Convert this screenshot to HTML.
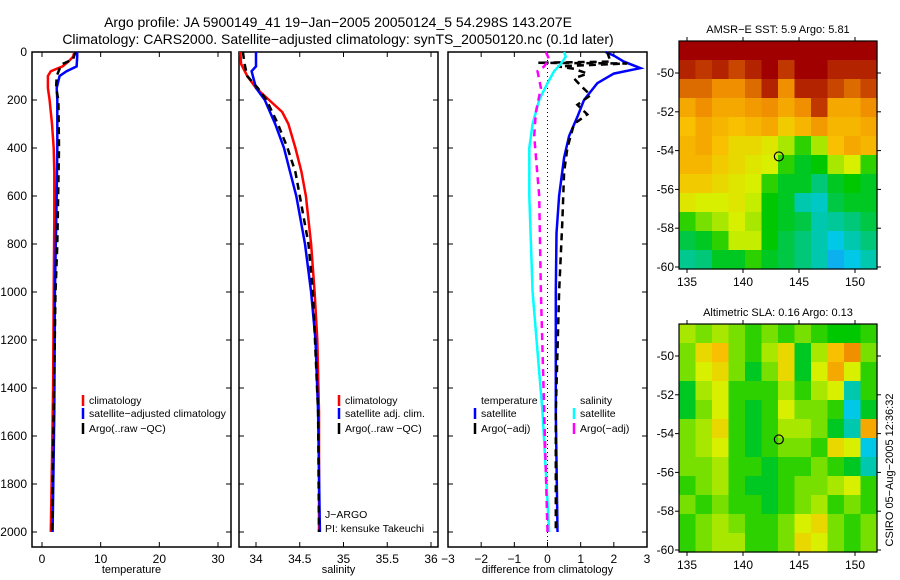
<!DOCTYPE html>
<html><head><meta charset="utf-8"><style>
body{margin:0;background:#fff;}
svg{display:block;font-family:"Liberation Sans",sans-serif;}
</style></head><body>
<svg id="fig" width="900" height="580" xmlns="http://www.w3.org/2000/svg">
<text x="338" y="27" font-size="14" text-anchor="middle">Argo profile: JA 5900149_41 19−Jan−2005 20050124_5 54.298S 143.207E</text>
<text x="338" y="44" font-size="14" text-anchor="middle">Climatology: CARS2000. Satellite−adjusted climatology: synTS_20050120.nc (0.1d later)</text>
<g id="g"></g>
</svg>
<script>
// ---------- data ----------
const depthTicks=[0,200,400,600,800,1000,1200,1400,1600,1800,2000];
const tempTicks=[0,10,20,30];
const salTicks=[34,34.5,35,35.5,36];
const salTickLabels=["34","34.5","35","35.5","36"];
const diffTicks=[-3,-2,-1,0,1,2,3];
const tClimD=[0,20,40,60,80,100,150,200,300,400,500,700,1000,1400,1700,2000];
const tClimV=[5.5,5.3,4.5,3.5,1.5,1.0,1.0,1.3,1.7,2.0,2.1,2.1,2.0,1.9,1.7,1.5];
const tSatD=[0,20,60,80,100,150,200,400,600,1000,1500,2000];
const tSatV=[6.0,6.0,5.9,4.2,3.0,2.5,2.6,2.6,2.5,2.2,2.1,1.8];
const tArgoD=[0,30,50,70,100,150,200,400,800,1000,1500,2000];
const tArgoV=[5.7,5.3,3.5,3.0,2.5,2.4,2.8,2.9,2.6,2.3,2.0,1.7];
const sClimD=[0,50,100,150,200,250,300,400,500,600,800,1000,1200,1500,2000];
const sClimV=[33.82,33.83,33.9,34.0,34.15,34.3,34.37,34.45,34.52,34.57,34.63,34.67,34.7,34.72,34.72];
const sSatD=[0,60,80,150,200,300,400,500,600,800,1000,1200,1500,2000];
const sSatV=[34.0,34.0,33.95,34.0,34.1,34.22,34.32,34.39,34.46,34.56,34.63,34.68,34.71,34.73];
const sArgoD=[0,50,100,150,200,300,400,500,600,800,1000,1500,2000];
const sArgoV=[33.85,33.87,33.9,34.02,34.12,34.25,34.36,34.45,34.5,34.6,34.65,34.71,34.72];
const dTSatD=[0,15,40,67,90,130,200,270,350,440,600,755,1000,1500,2000];
const dTSatV=[1.75,2.0,2.3,2.8,2.0,1.5,1.1,0.9,0.65,0.5,0.35,0.27,0.25,0.25,0.3];
const dTArgoD=[0,40,45,48,60,70,90,110,140,180,220,260,300,400,500,700,1000,1500,2000];
const dTArgoV=[1.8,1.9,-0.3,2.4,0.3,0.8,1.2,0.8,1.0,1.3,0.9,1.2,0.8,0.6,0.5,0.45,0.35,0.25,0.25];
const dSSatD=[0,20,50,80,130,200,300,400,600,1000,1500,2000];
const dSSatV=[0.5,0.55,0.4,0.2,0.0,-0.25,-0.45,-0.55,-0.55,-0.45,-0.15,0.05];
const dSArgoD=[0,30,60,80,150,250,350,600,1000,1500,2000];
const dSArgoV=[-0.05,0.05,-0.1,-0.3,-0.2,-0.35,-0.4,-0.25,-0.2,-0.1,0.0];
const lonTicks=[135,140,145,150];
const latTicks=[-50,-52,-54,-56,-58,-60];
const sstGrid=[
[1,1,1,1,1,1,1,1,1,1,1,1],
[0.95,0.92,0.95,0.9,0.95,1,0.92,1,1,0.95,0.95,0.95],
[0.85,0.85,0.8,0.8,0.85,0.95,0.8,0.95,0.95,0.9,0.85,0.9],
[0.75,0.8,0.75,0.75,0.78,0.8,0.75,0.8,0.92,0.75,0.75,0.8],
[0.7,0.75,0.72,0.7,0.72,0.75,0.68,0.72,0.78,0.72,0.72,0.75],
[0.72,0.75,0.7,0.65,0.65,0.62,0.55,0.45,0.55,0.7,0.75,0.72],
[0.72,0.72,0.68,0.65,0.62,0.6,0.45,0.4,0.42,0.55,0.6,0.45],
[0.68,0.68,0.65,0.62,0.6,0.45,0.4,0.4,0.35,0.4,0.42,0.4],
[0.62,0.6,0.6,0.62,0.58,0.42,0.4,0.3,0.28,0.38,0.4,0.4],
[0.45,0.5,0.55,0.6,0.55,0.42,0.4,0.38,0.3,0.32,0.35,0.38],
[0.38,0.4,0.45,0.58,0.58,0.42,0.38,0.35,0.3,0.25,0.3,0.35],
[0.33,0.35,0.4,0.4,0.45,0.4,0.38,0.35,0.3,0.22,0.25,0.3]];
const slaGrid=[
[0.55,0.5,0.55,0.5,0.45,0.5,0.45,0.5,0.45,0.42,0.42,0.45],
[0.5,0.65,0.7,0.5,0.45,0.55,0.65,0.4,0.55,0.7,0.8,0.5],
[0.5,0.6,0.65,0.5,0.4,0.5,0.65,0.4,0.6,0.75,0.6,0.45],
[0.4,0.55,0.6,0.45,0.45,0.45,0.55,0.45,0.55,0.6,0.3,0.45],
[0.4,0.5,0.6,0.45,0.4,0.45,0.6,0.5,0.5,0.45,0.25,0.4],
[0.5,0.55,0.65,0.45,0.4,0.45,0.55,0.55,0.5,0.4,0.3,0.75],
[0.5,0.55,0.6,0.45,0.4,0.45,0.5,0.5,0.45,0.65,0.6,0.25],
[0.5,0.5,0.55,0.45,0.45,0.4,0.45,0.45,0.5,0.45,0.4,0.3],
[0.45,0.5,0.55,0.45,0.4,0.4,0.45,0.5,0.5,0.55,0.6,0.45],
[0.5,0.45,0.5,0.45,0.45,0.4,0.45,0.5,0.55,0.45,0.5,0.45],
[0.45,0.5,0.55,0.5,0.45,0.45,0.5,0.6,0.65,0.5,0.45,0.5],
[0.45,0.5,0.55,0.55,0.45,0.45,0.5,0.65,0.6,0.5,0.45,0.5]];
const argoLon=143.2, argoLat=-54.3;

// ---------- drawing ----------
const NS="http://www.w3.org/2000/svg", G=document.getElementById('g');
function el(t,a,p){const e=document.createElementNS(NS,t);for(const k in a)e.setAttribute(k,a[k]);(p||G).appendChild(e);return e;}
const yTop=52,yBot=547;
const yD=d=>52+d*0.24;
function lin(d0,d1,r0,r1){return v=>r0+(v-d0)*(r1-r0)/(d1-d0);}
const panels=[
 {x0:32,x1:231,xs:lin(0,30,42,218),ticks:tempTicks,labels:tempTicks.map(String),title:'temperature',name:'temperature-panel'},
 {x0:239,x1:438,xs:lin(34,36,256,431),ticks:salTicks,labels:salTickLabels,title:'salinity',name:'salinity-panel'},
 {x0:448,x1:647,xs:lin(-3,3,448,647),ticks:diffTicks,labels:diffTicks.map(v=>v<0?'−'+(-v):String(v)),title:'difference from climatology',name:'difference-panel'}];
panels.forEach((p,i)=>{
 const g=el('g',{});
 
 
 el('rect',{x:p.x0,y:yTop,width:p.x1-p.x0,height:yBot-yTop,fill:'none',stroke:'#000','stroke-width':1.5},g);
 p.ticks.forEach((t,j)=>{const x=p.xs(t);
  el('line',{x1:x,x2:x,y1:yBot,y2:yBot-5,stroke:'#000'},g);
  el('line',{x1:x,x2:x,y1:yTop,y2:yTop+5,stroke:'#000'},g);
  const tx=el('text',{x:x,y:yBot+16,'font-size':12,'text-anchor':'middle'},g);tx.textContent=p.labels[j];
  
  });
 depthTicks.forEach(d=>{const y=yD(d);
  el('line',{x1:p.x0,x2:p.x0+5,y1:y,y2:y,stroke:'#000'},g);
  el('line',{x1:p.x1,x2:p.x1-5,y1:y,y2:y,stroke:'#000'},g);
  if(i==0){const tx=el('text',{x:27,y:y+4,'font-size':12,'text-anchor':'end'},g);tx.textContent=d;
   
   }});
 const tt=el('text',{x:(p.x0+p.x1)/2,y:573,'font-size':11,'text-anchor':'middle'},g);tt.textContent=p.title;
 
 
});
function series(p,D,V,color,dash,name){
 const pts=D.map((d,k)=>p.xs(V[k]).toFixed(1)+','+yD(d).toFixed(1)).join(' ');
 const l=el('polyline',{points:pts,fill:'none',stroke:color,'stroke-width':2.5,'stroke-dasharray':dash||'none'});
 
 
}
const P=panels;
el('line',{x1:P[2].xs(0),x2:P[2].xs(0),y1:yTop,y2:yBot,stroke:'#000','stroke-dasharray':'1,3'});
series(P[0],tClimD,tClimV,'#ff0000',null,'temperature-climatology-line');
series(P[0],tSatD,tSatV,'#0000ff',null,'temperature-satellite-line');
series(P[0],tArgoD,tArgoV,'#000',"7,5",'temperature-argo-line');
series(P[1],sClimD,sClimV,'#ff0000',null,'salinity-climatology-line');
series(P[1],sSatD,sSatV,'#0000ff',null,'salinity-satellite-line');
series(P[1],sArgoD,sArgoV,'#000',"7,5",'salinity-argo-line');
series(P[2],dTSatD,dTSatV,'#0000ff',null,'temp-diff-satellite-line');
series(P[2],dTArgoD,dTArgoV,'#000',"7,5",'temp-diff-argo-line');
series(P[2],dSSatD,dSSatV,'#00ffff',null,'sal-diff-satellite-line');
series(P[2],dSArgoD,dSArgoV,'#ff00ff',"7,5",'sal-diff-argo-line');
function legend(x,y,txt,color,name){
 if(color)el('line',{x1:x-6,x2:x-6,y1:y-9,y2:y+2,stroke:color,'stroke-width':2.5});
 const t=el('text',{x:x,y:y,'font-size':10.5});t.textContent=txt;
 
 
}
legend(89,404,'climatology','#ff0000','legend-climatology');
legend(89,417,'satellite−adjusted climatology','#0000ff','legend-satellite');
legend(89,432,'Argo(..raw −QC)','#000','legend-argo');
legend(345,404,'climatology','#ff0000','legend-climatology');
legend(345,417,'satellite adj. clim.','#0000ff','legend-satellite');
legend(345,432,'Argo(..raw −QC)','#000','legend-argo');
legend(481,404,'temperature',null,'legend-temperature-header');
legend(481,417,'satellite','#0000ff','legend-temp-satellite');
legend(481,432,'Argo(−adj)','#000','legend-temp-argo');
legend(580,404,'salinity',null,'legend-salinity-header');
legend(580,417,'satellite','#00ffff','legend-sal-satellite');
legend(580,432,'Argo(−adj)','#ff00ff','legend-sal-argo');
legend(325,518,'J−ARGO',null,'project-label');
legend(325,532,'PI: kensuke Takeuchi',null,'pi-label');

// maps
const stops=[[0.15,[40,120,255]],[0.25,[0,200,230]],[0.35,[0,200,120]],[0.42,[0,200,0]],[0.5,[120,224,0]],[0.6,[216,240,0]],[0.7,[248,192,0]],[0.8,[240,144,0]],[0.9,[200,70,0]],[1.0,[160,0,0]]];
function cmap(v){if(v<=stops[0][0])return 'rgb('+stops[0][1]+')';for(let i=1;i<stops.length;i++){if(v<=stops[i][0]){const a=stops[i-1],b=stops[i],f=(v-a[0])/(b[0]-a[0]);return 'rgb('+a[1].map((c,k)=>Math.round(c+(b[1][k]-c)*f)).join(',')+')';}}return 'rgb(160,0,0)';}
function map(top,grid,title,name){
 const x0=679,x1=877,y0=top,y1=top+228;
 const xs=lin(135,150,687,855), ys=lin(-50,-60,top+32,top+226);
 const g=el('g',{});
 
 
 const R=grid.length,C=grid[0].length,cw=(x1-x0)/C,ch=(y1-y0)/R;
 grid.forEach((row,r)=>row.forEach((v,c)=>{
  const cell=el('rect',{x:x0+c*cw,y:y0+r*ch,width:cw+0.6,height:ch+0.6,fill:cmap(v)},g);
  
  }));
 el('rect',{x:x0,y:y0,width:x1-x0,height:y1-y0,fill:'none',stroke:'#000','stroke-width':1.2},g);
 lonTicks.forEach(t=>{const x=xs(t);el('line',{x1:x,x2:x,y1:y1,y2:y1+4,stroke:'#000'},g);el('line',{x1:x,x2:x,y1:y0,y2:y0-4,stroke:'#000'},g);
  const tx=el('text',{x:x,y:y1+17,'font-size':12,'text-anchor':'middle'},g);tx.textContent=t;
  
  });
 latTicks.forEach(t=>{const y=ys(t);el('line',{x1:x0,x2:x0-4,y1:y,y2:y,stroke:'#000'},g);el('line',{x1:x1,x2:x1+4,y1:y,y2:y,stroke:'#000'},g);
  const tx=el('text',{x:x0-5,y:y+4,'font-size':12,'text-anchor':'end'},g);tx.textContent=t;
  
  });
 const m=el('circle',{cx:xs(argoLon),cy:ys(argoLat),r:4.5,fill:'none',stroke:'#000','stroke-width':1.2},g);
 
 
 const tt=el('text',{x:(x0+x1)/2,y:top-8,'font-size':11,'text-anchor':'middle'},g);tt.textContent=title;
 
 
}
map(41,sstGrid,'AMSR−E SST: 5.9 Argo: 5.81','sst-map');
map(324,slaGrid,'Altimetric SLA: 0.16 Argo: 0.13','sla-map');
const st=el('text',{x:0,y:0,'font-size':11,'text-anchor':'middle',transform:'translate(893,470) rotate(-90)'});
st.textContent='CSIRO 05−Aug−2005 12:36:32';


</script>
</body></html>
